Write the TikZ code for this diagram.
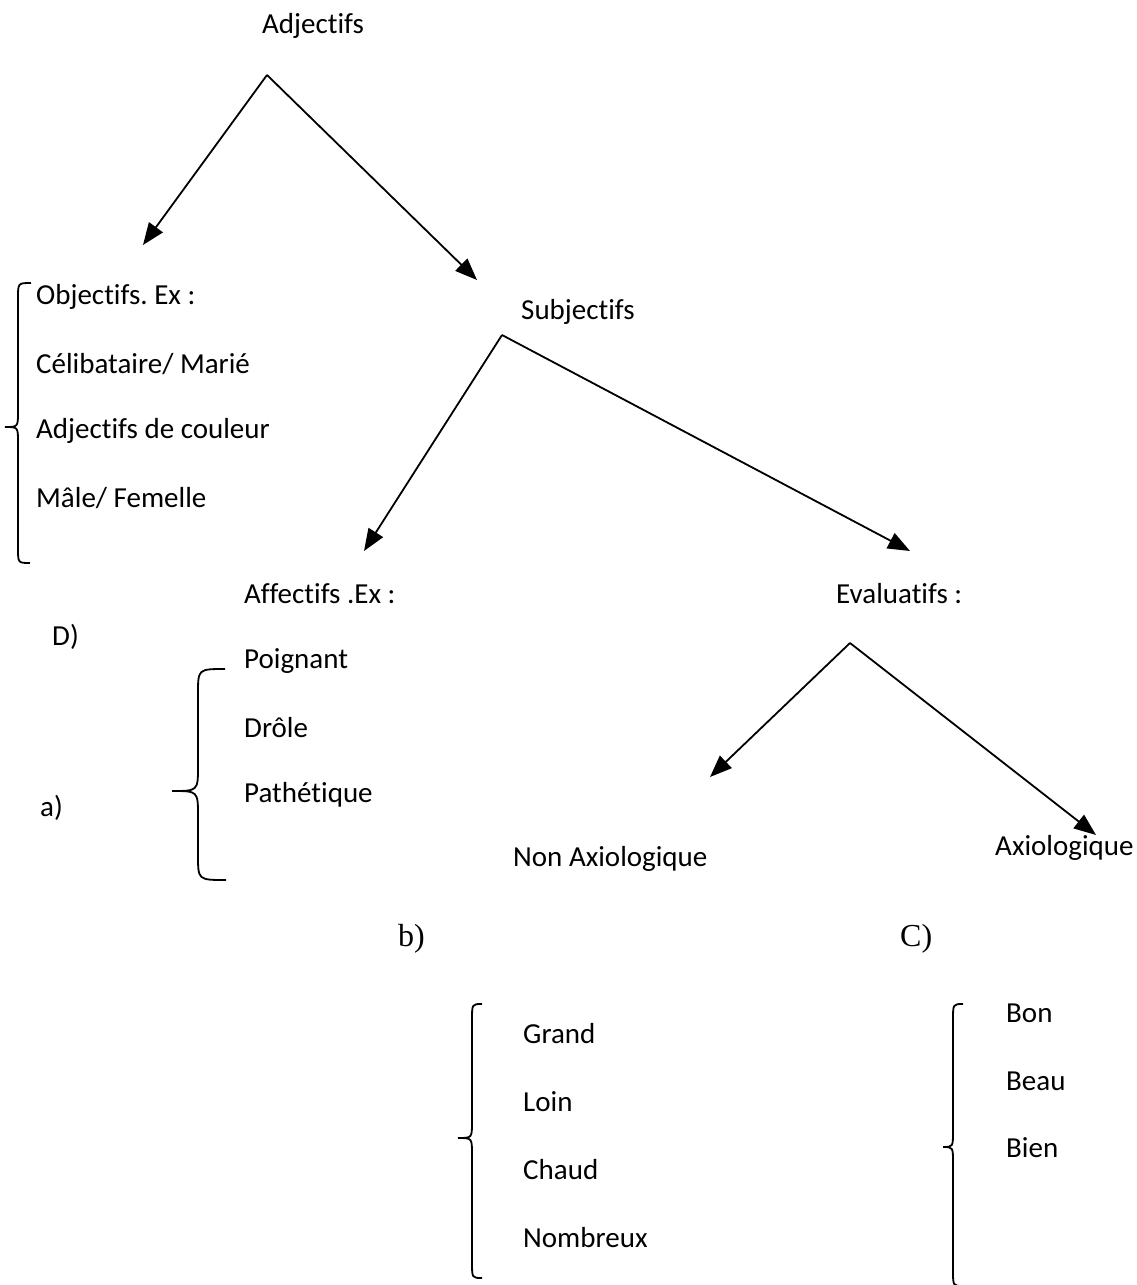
\documentclass[tikz,border=0pt]{standalone}
\usepackage{fontspec}
\setmainfont[Ligatures=NoCommon]{Carlito}
\newfontfamily\serifb{Liberation Serif}
\usetikzlibrary{arrows.meta}
\begin{document}
\frenchspacing
\begin{tikzpicture}[x=1pt,y=-1pt,
  lbl/.style={anchor=west,inner sep=0pt,font=\fontsize{29}{34}\selectfont},
  tag/.style={anchor=west,inner sep=0pt,font=\serifb\fontsize{32}{36}\selectfont},
  arr/.style={line width=1.8pt,-{Triangle[length=22pt,width=17pt]}},
  brc/.style={line width=1.8pt}]
\useasboundingbox (0,0) rectangle (1137,1285);
% texts
\node[lbl] (adj) at (262,26) {Adjectifs};
\node[lbl] (obj) at (36,297) {Objectifs. Ex :};
\node[lbl] (celib) at (36,364) {Célibataire/ Marié};
\node[lbl] (coul) at (36,431) {Adjectifs de couleur};
\node[lbl] (male) at (36,498) {Mâle/ Femelle};
\node[lbl] (subj) at (521,312) {Subjectifs};
\node[lbl] (aff) at (244,594) {Affectifs .Ex :};
\node[lbl] (eval) at (836,594) {Evaluatifs :};
\node[lbl] (D) at (52,637) {D)};
\node[lbl] (poi) at (244,661) {Poignant};
\node[lbl] (dro) at (244,728) {Drôle};
\node[lbl] (pat) at (244,795) {Pathétique};
\node[lbl] (a) at (40,808) {a)};
\node[lbl] (nonax) at (513,859) {Non Axiologique};
\node[lbl] (ax) at (995,848) {Axiologique};
\node[tag] (b) at (398,939) {b)};
\node[tag] (C) at (900,939) {C)};
\node[lbl] (gra) at (523,1034) {Grand};
\node[lbl] (loi) at (523,1102) {Loin};
\node[lbl] (cha) at (523,1170) {Chaud};
\node[lbl] (nom) at (523,1238) {Nombreux};
\node[lbl] (bon) at (1006,1013) {Bon};
\node[lbl] (bea) at (1006,1081) {Beau};
\node[lbl] (bie) at (1006,1148) {Bien};
% connector points
\coordinate (p1) at (267,75);
\coordinate (e1l) at (143,245);
\coordinate (e1r) at (477,280);
\coordinate (p2) at (502,335);
\coordinate (e2l) at (364,551);
\coordinate (e2r) at (910,551);
\coordinate (p3) at (850,643);
\coordinate (e3l) at (710,777);
\coordinate (e3r) at (1096,835);
\draw[arr] (p1) -- (e1l);
\draw[arr] (p1) -- (e1r);
\draw[arr] (p2) -- (e2l);
\draw[arr] (p2) -- (e2r);
\draw[arr] (p3) -- (e3l);
\draw[arr] (p3) -- (e3r);
% braces
\draw[brc] (31,283) .. controls (18,283) .. (18,298) -- (18,412) .. controls (18,427) .. (5,427) .. controls (18,427) .. (18,442) -- (18,548) .. controls (18,563) .. (30,563);
\draw[brc] (225,669) .. controls (198,669) .. (198,694) -- (198,766) .. controls (198,791) .. (172,791) .. controls (198,791) .. (198,816) -- (198,855) .. controls (198,880) .. (226,880);
\draw[brc] (482,1004) .. controls (472,1004) .. (472,1020) -- (472,1122) .. controls (472,1138) .. (458,1138) .. controls (472,1138) .. (472,1154) -- (472,1262) .. controls (472,1278) .. (482,1278);
\draw[brc] (963,1004) .. controls (953,1004) .. (953,1020) -- (953,1131) .. controls (953,1147) .. (943,1147) .. controls (953,1147) .. (953,1163) -- (953,1270) .. controls (953,1286) .. (963,1286);
\end{tikzpicture}
\end{document}
